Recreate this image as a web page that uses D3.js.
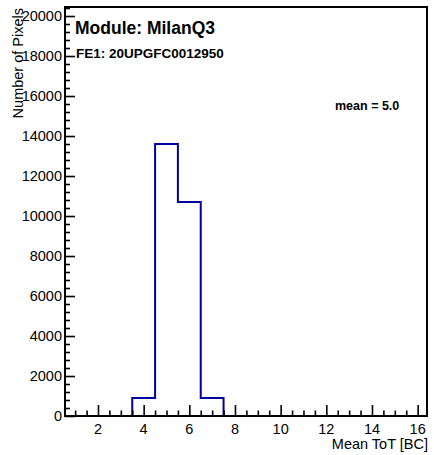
<!DOCTYPE html>
<html><head><meta charset="utf-8">
<script src="https://cdn.jsdelivr.net/npm/d3@7/dist/d3.min.js"></script>
<style>body{margin:0;background:#fff}svg{display:block;font-family:"Liberation Sans",Arial,sans-serif}</style>
</head><body>
<script>
const binCenters = [1,2,3,4,5,6,7,8,9,10,11,12,13,14,15,16];
const binCounts  = [0,0,0,900,13600,10700,900,0,0,0,0,0,0,0,0,0];
const xTickValues = [2,4,6,8,10,12,14,16];
const yTickValues = [0,2000,4000,6000,8000,10000,12000,14000,16000,18000,20000];
const title1 = "Module: MilanQ3";
const title2 = "FE1: 20UPGFC0012950";
const meanText = "mean = 5.0";
const xTitle = "Mean ToT [BC]";
const yTitle = "Number of Pixels";

const W = 434, H = 455;
const L = 65, R = 427, T = 7, B = 416;
const svg = d3.select("body").append("svg").attr("width", W).attr("height", H);
const x = d3.scaleLinear().domain([0.555, 16.41]).range([L, R]);
const y = d3.scaleLinear().domain([0, 20450]).range([B, T]);

// histogram outline
const pts = [];
pts.push([x.domain()[0], 0]);
binCenters.forEach((c, i) => {
  pts.push([c - 0.5, binCounts[i]]);
  pts.push([c + 0.5, binCounts[i]]);
});
pts.push([x.domain()[1], 0]);
const clipped = pts.map(p => [Math.max(x.domain()[0], Math.min(x.domain()[1], p[0])), p[1]]);
svg.append("path")
  .attr("d", d3.line().x(d => x(d[0])).y(d => y(d[1])).curve(d3.curveStepAfter)(clipped))
  .attr("fill", "none").attr("stroke", "#0000a0").attr("stroke-width", 2);

// frame
svg.append("rect").attr("x", L).attr("y", T).attr("width", R - L).attr("height", B - T)
  .attr("fill", "none").attr("stroke", "#000").attr("stroke-width", 2);

// x axis
const xMinor = d3.range(1, 16.5, 0.5).filter(v => v % 2 !== 0);
const xAxis = d3.axisTop(x).tickValues(xTickValues).tickSize(11).tickFormat("");
const gx = svg.append("g").attr("transform", `translate(0,${B})`).call(xAxis);
gx.select(".domain").remove();
gx.selectAll("line").attr("stroke-width", 1.6);
const gxm = svg.append("g").attr("transform", `translate(0,${B})`)
  .call(d3.axisTop(x).tickValues(xMinor).tickSize(5.5).tickFormat(""));
gxm.select(".domain").remove();
gxm.selectAll("line").attr("stroke-width", 1.6);
svg.append("g").selectAll("text").data(xTickValues).join("text")
  .attr("x", d => x(d)).attr("y", 434).attr("text-anchor", "middle")
  .attr("font-size", 14.5).text(d => d);

// y axis
const yMinor = d3.range(0, 20401, 400).filter(v => v % 2000 !== 0);
const gy = svg.append("g").attr("transform", `translate(${L},0)`)
  .call(d3.axisRight(y).tickValues(yTickValues).tickSize(10).tickFormat(""));
gy.select(".domain").remove();
gy.selectAll("line").attr("stroke-width", 1.6);
const gym = svg.append("g").attr("transform", `translate(${L},0)`)
  .call(d3.axisRight(y).tickValues(yMinor).tickSize(5).tickFormat(""));
gym.select(".domain").remove();
gym.selectAll("line").attr("stroke-width", 1.6);
svg.append("g").selectAll("text").data(yTickValues).join("text")
  .attr("x", 62).attr("y", d => y(d) + 5).attr("text-anchor", "end")
  .attr("font-size", 14.5).text(d => d);

// titles
svg.append("text").attr("x", R + 1).attr("y", 449).attr("text-anchor", "end")
  .attr("font-size", 14.5).text(xTitle);
svg.append("text").attr("transform", "translate(23,8) rotate(-90)")
  .attr("text-anchor", "end").attr("font-size", 14.5).text(yTitle);

svg.append("text").attr("x", 75).attr("y", 34).attr("font-size", 17.5)
  .attr("font-weight", "bold").text(title1);
svg.append("text").attr("x", 76).attr("y", 58).attr("font-size", 13.5)
  .attr("font-weight", "bold").text(title2);
svg.append("text").attr("x", 335).attr("y", 110).attr("font-size", 12.5)
  .attr("font-weight", "bold").text(meanText);
</script>
</body></html>
